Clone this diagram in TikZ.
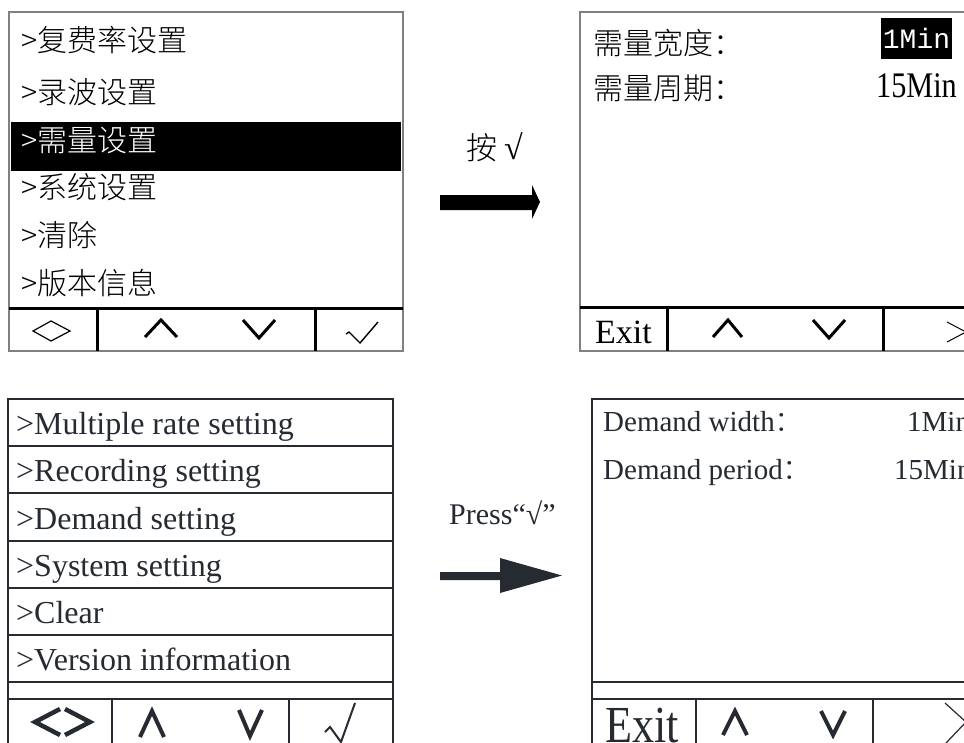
\documentclass[tikz,border=0pt]{standalone}
\usepackage{fontspec}
\setmainfont{Liberation Serif}
\IfFontExistsTF{FandolSong}{\newfontfamily\cjk{FandolSong}}{%
  \IfFontExistsTF{Noto Sans CJK SC Light}{\newfontfamily\cjk{Noto Sans CJK SC Light}}{\newfontfamily\cjk{Noto Sans CJK SC}}}
\newfontfamily\monof{Liberation Mono}
\definecolor{dk}{HTML}{262A31}
\definecolor{gr}{HTML}{808080}
\tikzset{
  cjkrow/.style={anchor=west,inner sep=0pt,font=\cjk\fontsize{30}{30}\selectfont},
  enrow/.style={anchor=base west,inner sep=0pt,text=dk,font=\fontsize{32}{32}\selectfont},
  enval/.style={anchor=base west,inner sep=0pt,text=dk,font=\fontsize{29}{29}\selectfont},
  topframe/.style={draw=gr,line width=2pt},
  topsep/.style={line width=3pt},
  botline/.style={draw=dk,line width=1.5pt},
  chev/.style={line width=3pt},
  bchev/.style={draw=dk,line width=4pt},
}
\begin{document}
\begin{tikzpicture}[x=1pt,y=-1pt]
\useasboundingbox (0,0) rectangle (964,742);
\clip (0,0) rectangle (964,742);
\fill[white] (0,0) rectangle (964,742);
% ---------- top left panel ----------
\fill (11,122) rectangle (401,171);
\draw[topframe] (9,12) rectangle (403,351);
\draw[topsep] (9,308) -- (403,308);
\draw[topsep] (97,308) -- (97,351) (315,308) -- (315,351);
\node[cjkrow] (tl1) at (21,40) {>复费率设置};
\node[cjkrow] (tl2) at (21,92) {>录波设置};
\node[cjkrow,text=white] (tl3) at (21,140) {>需量设置};
\node[cjkrow] (tl4) at (21,187) {>系统设置};
\node[cjkrow] (tl5) at (21,235) {>清除};
\node[cjkrow] (tl6) at (21,283) {>版本信息};
\draw[line width=1.2pt] (33,331) -- (51,321) -- (70,331) -- (51,341) -- cycle;
\draw[chev] (145,337) -- (161,320) -- (177,337);
\draw[chev] (243,320) -- (259,338) -- (275,320);
\draw[line width=1.4pt] (346,334) -- (349,332) -- (360,343) -- (378,322);
% ---------- top arrow ----------
\node[anchor=west,inner sep=0pt,font=\cjk\fontsize{31}{31}\selectfont] (lbl1) at (466,147) {按\kern7pt{\rmfamily\fontsize{34}{34}\selectfont √}};
\fill (440,195) -- (532,195) -- (532,185) -- (540,202) -- (532,219) -- (532,210) -- (440,210) -- cycle;
% ---------- top right panel ----------
\draw[topframe] (580,12) rectangle (990,351);
\draw[topsep] (580,307) -- (990,307);
\draw[topsep] (667,307) -- (667,351) (883,307) -- (883,351);
\node[cjkrow] (tr1) at (593,43) {需量宽度：};
\node[cjkrow] (tr2) at (593,88) {需量周期：};
\fill (881,18) rectangle (952,59);
\node[inner sep=0pt,text=white,font=\monof\fontsize{28}{28}\selectfont] (trv1) at (916.5,38.5) {1Min};
\node[anchor=base west,inner sep=0pt,font=\fontsize{36}{36}\selectfont] (trv2) at (876,97) {\scalebox{0.84}[1]{15Min}};
\node[anchor=base west,inner sep=0pt,font=\fontsize{34}{34}\selectfont] (trexit) at (595,343) {Exit};
\draw[chev] (713,337) -- (728,320) -- (742,337);
\draw[chev] (813,320) -- (829,338) -- (845,320);
\draw[line width=1pt] (947,322) -- (966,332) -- (947,342);
% ---------- bottom left panel ----------
\draw[botline] (8,399) rectangle (393,760);
\foreach \yy in {446,493,541,588,635,682,699} \draw[botline] (8,\yy) -- (393,\yy);
\draw[botline] (112,699) -- (112,760) (289,699) -- (289,760);
\node[enrow] (bl1) at (16,434) {>Multiple rate setting};
\node[enrow] (bl2) at (16,481) {>Recording setting};
\node[enrow] (bl3) at (16,529) {>Demand setting};
\node[enrow] (bl4) at (16,576) {>System setting};
\node[enrow] (bl5) at (16,623) {>Clear};
\node[enrow] (bl6) at (16,670) {>Version information};
\draw[bchev,line width=4.5pt] (60,709) -- (35,722) -- (60,735);
\draw[bchev,line width=4.5pt] (65,709) -- (90,722) -- (65,735);
\draw[bchev] (140,737) -- (152,711) -- (164,737);
\draw[bchev] (239,710) -- (250,736) -- (262,710);
\draw[draw=dk,line width=2pt] (325,732) -- (330,727) -- (341,742) -- (355,703);
% ---------- bottom arrow ----------
\node[anchor=base west,inner sep=0pt,text=dk,font=\fontsize{30}{30}\selectfont] (lbl2) at (449,524) {Press“√”};
\fill[dk] (440,572) -- (500,572) -- (500,558) -- (562,575.5) -- (500,593) -- (500,580) -- (440,580) -- cycle;
% ---------- bottom right panel ----------
\draw[botline] (592,399) rectangle (990,760);
\draw[botline] (592,682) -- (990,682) (592,699) -- (990,699);
\draw[botline] (696,699) -- (696,760) (873,699) -- (873,760);
\node[enval] (br1) at (603,431) {Demand width{\cjk ：}};
\node[enval] (br2) at (603,479) {Demand period{\cjk ：}};
\node[enval] (brv1) at (907,431) {1Min};
\node[enval] (brv2) at (894,479) {15Min};
\node[anchor=base west,inner sep=0pt,text=dk,font=\fontsize{52}{52}\selectfont] (brexit) at (605,742) {\scalebox{0.85}[1]{Exit}};
\draw[bchev] (723,735) -- (735,711) -- (747,735);
\draw[bchev] (821,711) -- (833,735) -- (845,711);
\draw[draw=dk,line width=1.2pt] (945,703) -- (966,722) -- (946,743);
\end{tikzpicture}
\end{document}
